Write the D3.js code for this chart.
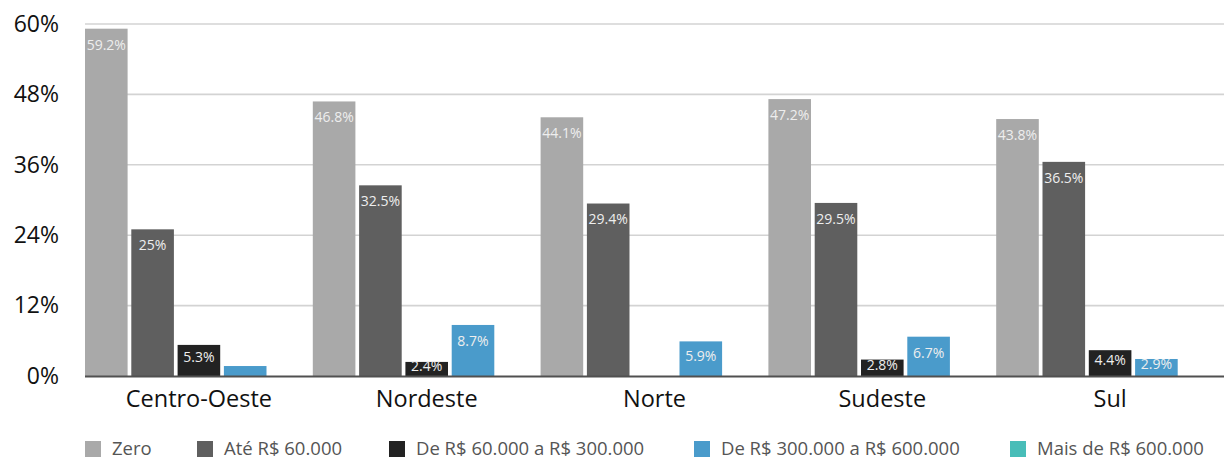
<!DOCTYPE html>
<html>
<head>
<meta charset="utf-8">
<script src="https://cdn.jsdelivr.net/npm/d3@7"></script>
<style>
  html, body { margin: 0; padding: 0; background: #fff; }
  svg { display: block; font-family: "Open Sans", "Noto Sans", sans-serif; }
</style>
</head>
<body>
<svg id="chart" width="1224" height="459"></svg>
<script>
const regions = ["Centro-Oeste", "Nordeste", "Norte", "Sudeste", "Sul"];
const seriesNames = ["Zero", "Até R$ 60.000", "De R$ 60.000 a R$ 300.000", "De R$ 300.000 a R$ 600.000", "Mais de R$ 600.000"];
const seriesColors = ["#a9a9a9", "#5f5f5f", "#222222", "#4a9bcb", "#48bdb8"];
const zeroVals   = [59.2, 46.8, 44.1, 47.2, 43.8];
const ate60Vals  = [25, 32.5, 29.4, 29.5, 36.5];
const de60Vals   = [5.3, 2.4, 0, 2.8, 4.4];
const de300Vals  = [1.7, 8.7, 5.9, 6.7, 2.9];
const maisVals   = [0, 0, 0, 0, 0];
const zeroLabels  = ["59.2%", "46.8%", "44.1%", "47.2%", "43.8%"];
const ate60Labels = ["25%", "32.5%", "29.4%", "29.5%", "36.5%"];
const de60Labels  = ["5.3%", "2.4%", null, "2.8%", "4.4%"];
const de300Labels = [null, "8.7%", "5.9%", "6.7%", "2.9%"];
const maisLabels  = [null, null, null, null, null];
const yTicks = [0, 12, 24, 36, 48, 60];

const seriesVals = [zeroVals, ate60Vals, de60Vals, de300Vals, maisVals];
const seriesLabels = [zeroLabels, ate60Labels, de60Labels, de300Labels, maisLabels];

const svg = d3.select("#chart");
const mLeft = 85, mRight = 1224, mTop = 24, mBottom = 376;

const x0 = d3.scaleBand().domain(regions).range([mLeft, mRight]).padding(0);
const x1 = d3.scaleBand().domain(d3.range(seriesNames.length)).range([0, x0.bandwidth()]).paddingInner(0.08).paddingOuter(0);
const y = d3.scaleLinear().domain([0, 60]).range([mBottom, mTop]);

// gridlines
svg.append("g").selectAll("line").data(yTicks.filter(t => t > 0)).join("line")
  .attr("x1", mLeft).attr("x2", mRight)
  .attr("y1", d => y(d)).attr("y2", d => y(d))
  .attr("stroke", "#d3d3d3").attr("stroke-width", 1.6);

// y axis labels
const yAxis = d3.axisLeft(y).tickValues(yTicks).tickFormat(d => d + "%").tickSize(0).tickPadding(0);
const gy = svg.append("g").attr("transform", "translate(59,0)").call(yAxis);
gy.select(".domain").remove();
gy.selectAll("text").attr("font-size", 23).attr("fill", "#111").attr("font-family", "'Open Sans', sans-serif");

// bars
const data = [];
regions.forEach((r, i) => {
  seriesNames.forEach((s, j) => {
    data.push({ region: r, si: j, value: seriesVals[j][i], label: seriesLabels[j][i] });
  });
});

const g = svg.append("g");
g.selectAll("rect").data(data.filter(d => d.value > 0)).join("rect")
  .attr("x", d => x0(d.region) + x1(d.si))
  .attr("width", x1.bandwidth())
  .attr("y", d => y(d.value))
  .attr("height", d => y(0) - y(d.value))
  .attr("fill", d => seriesColors[d.si]);

g.selectAll("text").data(data.filter(d => d.label)).join("text")
  .attr("x", d => x0(d.region) + x1(d.si) + x1.bandwidth() / 2)
  .attr("y", d => {
    const t = y(d.value), h = y(0) - t;
    return t + Math.min(16, h / 2 - 3);
  })
  .attr("dy", "0.35em")
  .attr("text-anchor", "middle")
  .attr("font-size", 14)
  .attr("fill", "#eeeeee")
  .text(d => d.label);

// baseline
svg.append("line").attr("x1", mLeft).attr("x2", mRight)
  .attr("y1", y(0) + 0.5).attr("y2", y(0) + 0.5)
  .attr("stroke", "#505050").attr("stroke-width", 2);

// x axis labels
const xAxis = d3.axisBottom(x0).tickSize(0).tickPadding(0);
const gx = svg.append("g").attr("transform", `translate(0,${mBottom})`).call(xAxis);
gx.select(".domain").remove();
gx.selectAll("text").attr("font-size", 23.5).attr("fill", "#111").attr("dy", null).attr("y", 31)
  .attr("font-family", "'Open Sans', sans-serif");

// legend
const legendX = [85, 197, 389, 694, 1010];
const leg = svg.append("g").selectAll("g").data(seriesNames).join("g")
  .attr("transform", (d, i) => `translate(${legendX[i]},441)`);
leg.append("rect").attr("width", 16).attr("height", 16).attr("fill", (d, i) => seriesColors[i]);
leg.append("text").attr("x", 27).attr("y", 8).attr("dy", "0.35em")
  .attr("font-size", 18.5).attr("fill", "#555").text(d => d);
</script>
</body>
</html>
